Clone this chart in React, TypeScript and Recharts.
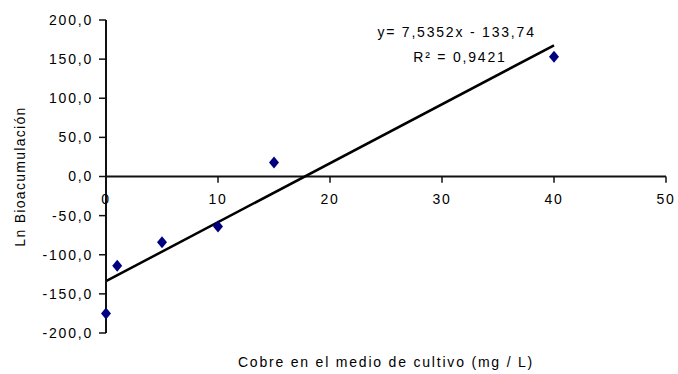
import React from "react";
import {
  ComposedChart,
  Scatter,
  XAxis,
  YAxis,
  ReferenceLine,
  ReferenceDot,
} from "recharts";

// copper in the culture medium (mg/L) vs ln bioaccumulation
const cobre = [0, 1, 5, 10, 15, 40];
const lnBio = [-175, -114, -84, -64, 18, 153];

const xTicks = [0, 10, 20, 30, 40, 50];
const yTicks = [-200, -150, -100, -50, 0, 50, 100, 150, 200];

// linear trendline as reported on the chart
const pendiente = 7.5352;
const intercepto = -133.74;
const r2 = 0.9421;
const trendRange = [0, 40];

const points = cobre.map((x, i) => ({ x, y: lnBio[i] }));

const coma = (v: number, d: number) => v.toFixed(d).replace(".", ",");

const textStyle = { fill: "#000", fontSize: 14, letterSpacing: 1.8 };

const Diamond = (props: any) => {
  const { cx, cy } = props;
  if (cx == null || cy == null) return null;
  return (
    <path
      d={`M${cx},${cy - 6} L${cx + 5},${cy} L${cx},${cy + 6} L${cx - 5},${cy} Z`}
      fill="#000080"
    />
  );
};

export default function App() {
  const trend = trendRange.map((x) => ({ x, y: pendiente * x + intercepto }));
  return (
    <div
      style={{
        position: "absolute",
        left: 0,
        top: 0,
        width: 678,
        height: 374,
        background: "#fff",
        fontFamily: "'Liberation Sans', Arial, sans-serif",
      }}
    >
      <ComposedChart
        width={678}
        height={374}
        data={points}
        margin={{ top: 20, right: 12, bottom: 0, left: 19 }}
      >
        <XAxis
          type="number"
          dataKey="x"
          domain={[0, 50]}
          ticks={xTicks}
          axisLine={false}
          tickLine={false}
          tick={false}
          height={41}
          label={{
            value: "Cobre en el medio de cultivo (mg / L)",
            position: "insideBottom",
            offset: 7,
            ...textStyle,
          }}
        />
        <YAxis
          type="number"
          domain={[-200, 200]}
          ticks={yTicks}
          interval={0}
          width={87}
          tickFormatter={(v: number) => coma(v, 1)}
          tick={textStyle}
          tickSize={7}
          tickMargin={6}
          axisLine={{ stroke: "#111", strokeWidth: 2 }}
          tickLine={{ stroke: "#111", strokeWidth: 1.5 }}
          label={{
            value: "Ln Bioacumulación",
            angle: -90,
            position: "insideLeft",
            offset: 1,
            style: { textAnchor: "middle" },
            fill: "#000",
            fontSize: 14,
            letterSpacing: 1.3,
          }}
        />

        {/* x axis drawn through y = 0 */}
        <ReferenceLine y={0} stroke="#111" strokeWidth={2} />
        {xTicks.map((t) => (
          <ReferenceLine
            key={`tl-${t}`}
            segment={[
              { x: t, y: 0 },
              { x: t, y: -8 },
            ]}
            stroke="#111"
            strokeWidth={1.5}
          />
        ))}
        {xTicks.map((t) => (
          <ReferenceDot
            key={`tx-${t}`}
            x={t}
            y={0}
            r={1}
            fill="none"
            stroke="none"
            label={{ value: String(t), position: "bottom", offset: 17, ...textStyle }}
          />
        ))}

        <ReferenceLine
          segment={trend}
          stroke="#000"
          strokeWidth={2.5}
        />

        <ReferenceDot
          x={31.3}
          y={185}
          r={1}
          fill="none"
          stroke="none"
          label={{
            value: `y= ${coma(pendiente, 4)}x - ${coma(-intercepto, 2)}`,
            position: "center",
            ...textStyle,
          }}
        />
        <ReferenceDot
          x={31.6}
          y={153}
          r={1}
          fill="none"
          stroke="none"
          label={{ value: `R² = ${coma(r2, 4)}`, position: "center", ...textStyle }}
        />

        <Scatter dataKey="y" shape={<Diamond />} isAnimationActive={false} />
      </ComposedChart>
    </div>
  );
}
